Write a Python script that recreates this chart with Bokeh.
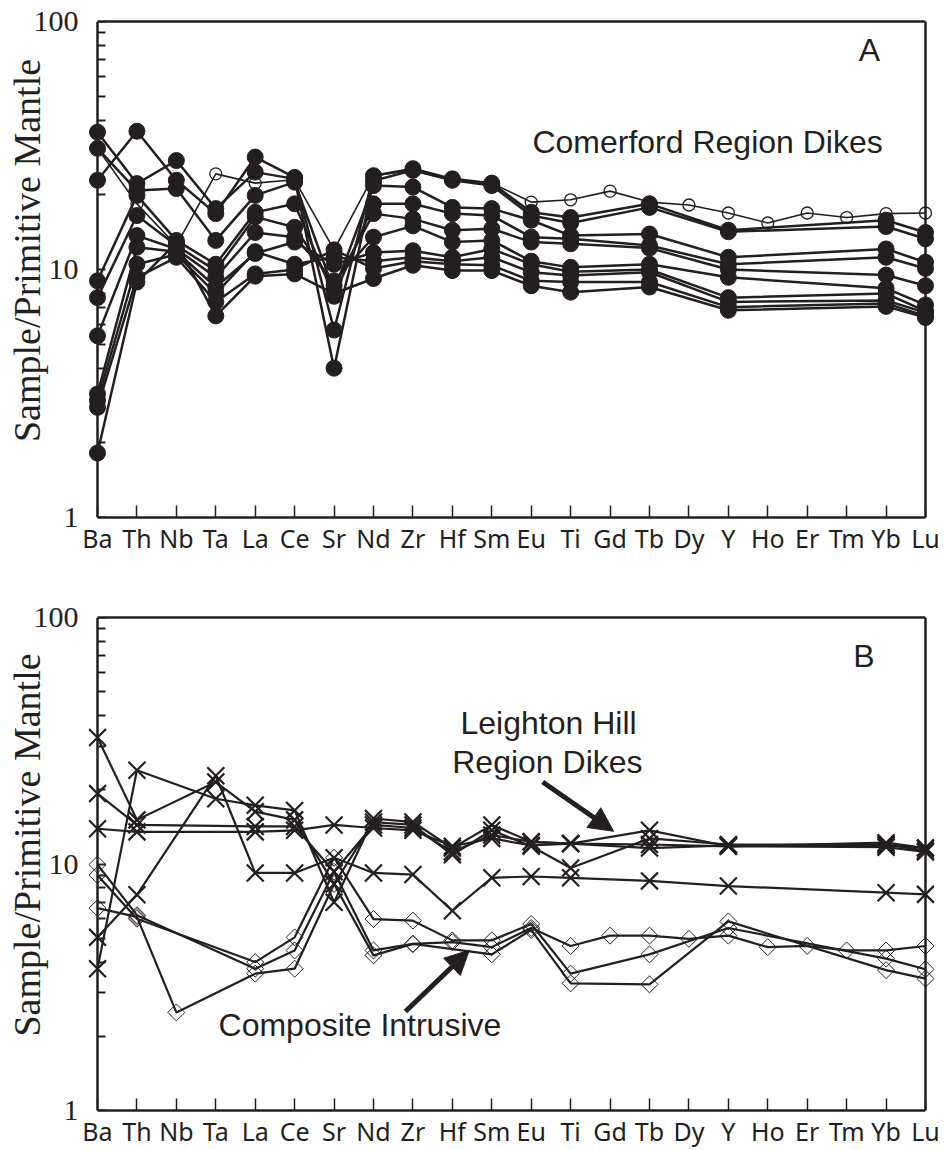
import math

from bokeh.plotting import figure
from bokeh.layouts import column
from bokeh.models import (Range1d, LogAxis, LinearAxis, FixedTicker, PrintfTickFormatter,
                          Label, Arrow, NormalHead)
from bokeh.embed import file_html
from bokeh.resources import INLINE

# ---------------------------------------------------------------- data
ELEMENTS = ["Ba", "Th", "Nb", "Ta", "La", "Ce", "Sr", "Nd", "Zr", "Hf", "Sm",
            "Eu", "Ti", "Gd", "Tb", "Dy", "Y", "Ho", "Er", "Tm", "Yb", "Lu"]
N = None  # element not analysed

# A: Comerford Region dikes (filled circles)
comerford_1 = [22.9, 36.1, 22.9, 16.8, 28.4, 23.5, 5.7, 23.9, 25.5, 23.2, 22.3, 17.0, 16.2, N, 18.4, N, 14.4, N, N, N, 15.8, 14.1]
comerford_2 = [35.8, 22.2, 27.5, 17.6, 24.7, 23.2, 4.0, 22.8, 25.1, 22.9, 21.8, 16.5, 15.4, N, 17.8, N, 14.2, N, N, N, 14.9, 13.3]
comerford_3 = [30.8, 20.8, 21.2, 13.1, 19.9, 22.5, 8.2, 21.8, 21.5, 17.8, 17.6, 15.8, 13.7, N, 13.9, N, 11.2, N, N, N, 12.1, 10.7]
comerford_4 = [9.0, 19.9, 13.1, 10.5, 17.0, 18.4, 7.8, 18.4, 18.4, 16.8, 16.5, 13.5, 13.3, N, 12.5, N, 10.5, N, N, N, 11.2, 10.1]
comerford_5 = [7.7, 16.5, 12.5, 9.9, 16.3, 14.8, 8.6, 16.8, 16.0, 14.4, 14.6, 12.9, 12.7, N, 12.2, N, 10.0, N, N, N, 9.5, 8.6]
comerford_6 = [5.4, 13.7, 12.1, 9.3, 14.1, 13.5, 9.0, 13.5, 15.0, 12.9, 13.1, 10.8, 10.2, N, 10.5, N, 9.3, N, N, N, 8.4, 7.2]
comerford_7 = [3.15, 12.3, 11.8, 8.5, 11.6, 12.9, 10.5, 11.7, 11.9, 11.2, 12.1, 10.5, 9.8, N, 10.0, N, 7.7, N, N, N, 8.0, 6.8]
comerford_8 = [2.96, 10.5, 11.5, 8.0, 11.8, 10.5, 11.2, 10.8, 11.2, 10.8, 11.2, 9.75, 9.46, N, 9.75, N, 7.4, N, N, N, 7.5, 6.7]
comerford_9 = [2.78, 9.3, 11.2, 7.4, 9.6, 10.0, 12.0, 10.1, 10.8, 10.5, 10.4, 9.0, 8.9, N, 8.9, N, 7.05, N, N, N, 7.3, 6.5]
comerford_10 = [1.82, 8.9, 12.8, 6.5, 9.4, 9.6, 8.0, 9.2, 10.4, 9.9, 9.9, 8.6, 8.1, N, 8.5, N, 6.85, N, N, N, 7.1, 6.4]
# A: full-REE dike (open circles)
comerford_full = [30.8, 18.4, 12.5, 24.3, 22.3, 23.0, 12.0, 23.9, 25.1, 22.9, 22.3, 18.7, 19.1, 20.7, 18.7, 18.2, 16.9, 15.4, 16.9, 16.2, 16.8, 16.9]

# B: Leighton Hill Region dikes (crosses)
leighton_1 = [32.6, 15.1, N, 21.5, 16.3, 15.1, 8.3, 14.8, 14.4, 10.9, 13.7, 11.8, 9.64, N, 12.7, N, 12.0, N, N, N, 12.0, 11.3]
leighton_2 = [19.3, 14.4, N, N, 14.2, 14.2, 9.3, 14.4, 14.0, 11.2, 13.1, 12.3, 12.1, N, 12.0, N, 11.8, N, N, N, 11.7, 11.2]
leighton_3 = [13.9, 13.5, N, N, 13.5, 13.7, 14.4, 14.0, 13.7, 11.8, 12.7, 11.9, 12.1, N, 11.6, N, 11.9, N, N, N, 11.9, 11.6]
leighton_4 = [3.76, 24.0, N, 18.4, 17.3, 16.5, 7.0, 15.3, 14.8, 11.6, 14.4, 12.3, 12.1, N, 13.7, N, 11.8, N, N, N, 12.2, 11.6]
leighton_5 = [5.04, 7.5, N, 22.8, 9.2, 9.2, 10.6, 9.2, 9.06, 6.46, 8.79, 8.9, 8.79, N, 8.54, N, 8.14, N, N, N, 7.65, 7.53]

# B: Composite Intrusive (open diamonds)
composite_1 = [9.94, 6.2, N, N, 3.76, 4.46, 9.3, 4.46, 4.74, 4.82, 4.6, 5.5, 4.65, 5.12, 5.12, 4.97, 5.12, 4.6, 4.65, 4.46, 4.46, 4.65]
composite_2 = [9.01, 6.0, N, N, 4.0, 5.04, 10.6, 5.98, 5.89, 4.9, 4.9, 5.71, 3.59, N, 4.3, N, 5.5, N, N, N, 4.13, 3.74]
composite_3 = [6.62, 6.1, 2.5, N, 3.59, 3.76, 8.3, 4.26, 4.74, N, 4.3, 5.4, 3.28, N, 3.25, N, 5.85, N, N, N, 3.71, 3.43]

Y_MAJOR = [1, 10, 100]
Y_MINOR = [2, 3, 4, 5, 6, 7, 8, 9, 20, 30, 40, 50, 60, 70, 80, 90]
Y_TITLE = "Sample/Primitive Mantle"

# ---------------------------------------------------------------- style
INK = "#231f20"
PAD = 9 / 39.43          # room outside Ba and Lu so end markers are not cut
LAST = len(ELEMENTS) - 1
LIFT = "\u2002\u2002"    # en spaces: raise the centred axis title a little


def points(vals):
    xs = [i for i, v in enumerate(vals) if v is not None]
    ys = [v for v in vals if v is not None]
    return xs, ys


def bare(ax):
    ax.major_tick_in = 0
    ax.major_tick_out = 0
    ax.minor_tick_in = 0
    ax.minor_tick_out = 0


def make_panel(height, border_top, border_bottom):
    p = figure(width=944, height=height,
               x_range=Range1d(-PAD, LAST + PAD), y_range=Range1d(1, 100),
               y_axis_type="log", x_axis_location=None, y_axis_location=None,
               toolbar_location=None, output_backend="svg",
               min_border_left=88, min_border_right=10,
               min_border_top=border_top, min_border_bottom=border_bottom)
    p.outline_line_color = None
    p.xgrid.visible = False
    p.ygrid.visible = False

    # tick labels and title of the log axis, just outside the frame
    labels = LogAxis(ticker=FixedTicker(ticks=Y_MAJOR),
                     formatter=PrintfTickFormatter(format="%d"),
                     axis_label=LIFT + Y_TITLE)
    bare(labels)
    labels.axis_line_color = None
    labels.major_label_text_font = "Liberation Serif"
    labels.major_label_text_font_size = "30px"
    labels.major_label_text_color = INK
    labels.major_label_standoff = 10
    labels.axis_label_text_font = "Liberation Serif"
    labels.axis_label_text_font_size = "38px"
    labels.axis_label_text_font_style = "normal"
    labels.axis_label_text_color = INK
    labels.axis_label_standoff = -17
    p.add_layout(labels, "left")

    # the axis line with inward ticks, through the Ba column
    spine = LogAxis(fixed_location=0,
                    ticker=FixedTicker(ticks=Y_MAJOR, minor_ticks=Y_MINOR))
    spine.axis_line_color = INK
    spine.axis_line_width = 2.5
    spine.major_tick_in = 8
    spine.major_tick_out = 0
    spine.minor_tick_in = 8
    spine.minor_tick_out = 0
    spine.major_tick_line_color = INK
    spine.minor_tick_line_color = INK
    spine.major_tick_line_width = 2
    spine.minor_tick_line_width = 2
    spine.major_label_text_color = None
    spine.major_label_text_font_size = "10px"
    spine.major_label_standoff = 0
    p.add_layout(spine, "left")

    bottom = LinearAxis(bounds=(0, LAST),
                        ticker=FixedTicker(ticks=list(range(len(ELEMENTS)))),
                        major_label_overrides={i: e for i, e in enumerate(ELEMENTS)})
    bottom.axis_line_color = INK
    bottom.axis_line_width = 2.5
    bottom.major_tick_in = 12
    bottom.major_tick_out = 0
    bottom.minor_tick_in = 0
    bottom.minor_tick_out = 0
    bottom.major_tick_line_color = INK
    bottom.major_tick_line_width = 1.5
    bottom.major_label_text_font = "Noto Sans"
    bottom.major_label_text_font_size = "25px"
    bottom.major_label_text_color = INK
    bottom.major_label_standoff = 3
    p.add_layout(bottom, "below")

    top = LinearAxis(bounds=(0, LAST), ticker=FixedTicker(ticks=[]))
    right = LogAxis(fixed_location=LAST, ticker=FixedTicker(ticks=[]))
    for ax in (top, right):
        bare(ax)
        ax.axis_line_color = INK
        ax.axis_line_width = 2.5
        ax.major_label_text_color = None
    p.add_layout(top, "above")
    p.add_layout(right, "right")
    return p


def note(p, text, x, y, align="left"):
    p.add_layout(Label(x=x, y=y, text=text, text_align=align, text_baseline="middle",
                       text_font="Liberation Sans", text_font_size="32px", text_color=INK))


# ---------------------------------------------------------------- panel A
pa = make_panel(575, 21, 58)
filled = [comerford_1, comerford_2, comerford_3, comerford_4, comerford_5,
          comerford_6, comerford_7, comerford_8, comerford_9, comerford_10]

xs, ys = points(comerford_full)
pa.line(xs, ys, line_color=INK, line_width=1.6)
for s in filled:
    xs, ys = points(s)
    pa.line(xs, ys, line_color=INK, line_width=2.5)
for s in filled:
    xs, ys = points(s)
    pa.scatter(xs, ys, marker="circle", size=16, fill_color=INK, line_color=INK)
xs, ys = points(comerford_full)
pa.scatter(xs, ys, marker="circle", size=12, fill_color=None, line_color=INK, line_width=1.3)

note(pa, "A", 19.31, 77.1)
note(pa, "Comerford Region Dikes", 11.03, 32.8)

# ---------------------------------------------------------------- panel B
pb = make_panel(575, 42, 35)
crosses = [leighton_1, leighton_2, leighton_3, leighton_4, leighton_5]
diamonds = [composite_1, composite_2, composite_3]

for s in crosses + diamonds:
    xs, ys = points(s)
    pb.line(xs, ys, line_color=INK, line_width=2.2)
for s in crosses:
    xs, ys = points(s)
    pb.scatter(xs, ys, marker="x", size=24, line_color=INK, line_width=2.2)
for s in diamonds:
    xs, ys = points(s)
    pb.scatter(xs, ys, marker="square", angle=math.pi / 4, size=12,
               fill_color=None, line_color=INK, line_width=1)

note(pb, "B", 19.17, 69.7)
note(pb, "Leighton Hill", 11.44, 37.2, "center")
note(pb, "Region Dikes", 11.41, 25.9, "center")
note(pb, "Composite Intrusive", 3.07, 2.215)

pb.add_layout(Arrow(end=NormalHead(size=24, fill_color=INK, line_color=INK),
                    x_start=11.29, y_start=21.5, x_end=13.09, y_end=13.57,
                    line_color=INK, line_width=5))
pb.add_layout(Arrow(end=NormalHead(size=24, fill_color=INK, line_color=INK),
                    x_start=7.81, y_start=2.52, x_end=9.43, y_end=4.47,
                    line_color=INK, line_width=5))

layout = column(pa, pb)
open("out.html", "w").write(file_html(layout, INLINE, title="Primitive mantle normalised spider diagrams"))
